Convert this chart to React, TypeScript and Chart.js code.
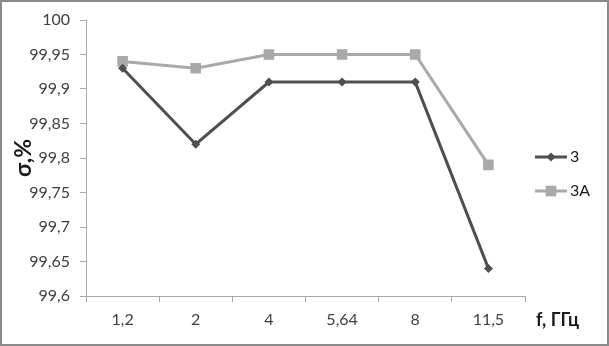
import React, { useEffect, useRef } from "react";
import { Chart, registerables } from "chart.js";

Chart.register(...registerables);

const categories = ["1,2", "2", "4", "5,64", "8", "11,5"];
const series3 = [99.93, 99.82, 99.91, 99.91, 99.91, 99.64];
const series3A = [99.94, 99.93, 99.95, 99.95, 99.95, 99.79];
const seriesNames = ["3", "3A"];
const yTitle = "σ,%";
const xTitle = "f, ГГц";

const DARK = "#4f4f4f";
const LIGHT = "#a9a9a9";
const FONT = "Lato, 'Open Sans', sans-serif";

const extras = {
  id: "extras",
  afterDraw(chart: any) {
    const ctx = chart.ctx;
    ctx.save();
    ctx.strokeStyle = "#8a8a8a";
    ctx.lineWidth = 2;
    ctx.strokeRect(1, 1, chart.width - 2, chart.height - 2);
    ctx.fillStyle = "#1a1a1a";
    ctx.font = `bold 18px ${FONT}`;
    ctx.textAlign = "left";
    ctx.textBaseline = "middle";
    ctx.fillText(xTitle, 536, 320);
    const items = [
      { name: seriesNames[0], color: DARK, style: "rectRot", r: 4.5, y: 157 },
      { name: seriesNames[1], color: LIGHT, style: "rect", r: 7.5, y: 191 },
    ];
    ctx.font = `16px ${FONT}`;
    for (const it of items) {
      ctx.strokeStyle = it.color;
      ctx.lineWidth = 3;
      ctx.beginPath();
      ctx.moveTo(535, it.y);
      ctx.lineTo(567, it.y);
      ctx.stroke();
      ctx.fillStyle = it.color;
      ctx.beginPath();
      if (it.style === "rect") {
        const s = it.r * Math.SQRT1_2;
        ctx.rect(551 - s, it.y - s, 2 * s, 2 * s);
      } else {
        ctx.moveTo(551, it.y - it.r);
        ctx.lineTo(551 + it.r, it.y);
        ctx.lineTo(551, it.y + it.r);
        ctx.lineTo(551 - it.r, it.y);
        ctx.closePath();
      }
      ctx.fill();
      ctx.fillStyle = "#1a1a1a";
      ctx.fillText(it.name, 570, it.y);
    }
    ctx.restore();
  },
};

export default function App() {
  const ref = useRef<HTMLCanvasElement>(null);
  useEffect(() => {
    document.body.style.margin = "0";
    const chart = new Chart(ref.current!, {
      type: "line",
      data: {
        labels: categories,
        datasets: [
          {
            label: seriesNames[0],
            data: series3,
            borderColor: DARK,
            backgroundColor: DARK,
            borderWidth: 3,
            pointStyle: "rectRot",
            pointRadius: 4.5,
            pointBorderWidth: 0,
            tension: 0,
          },
          {
            label: seriesNames[1],
            data: series3A,
            borderColor: LIGHT,
            backgroundColor: LIGHT,
            borderWidth: 3,
            pointStyle: "rect",
            pointRadius: 7.5,
            pointBorderWidth: 0,
            tension: 0,
          },
        ],
      },
      options: {
        animation: false,
        responsive: false,
        devicePixelRatio: 1,
        layout: { padding: { top: 20, right: 84, left: 0, bottom: 0 } },
        plugins: { legend: { display: false }, tooltip: { enabled: false } },
        scales: {
          x: {
            type: "category",
            offset: true,
            grid: {
              offset: true,
              drawOnChartArea: false,
              drawTicks: true,
              tickLength: 6,
              color: "#a8a8a8",
            },
            border: { color: "#a8a8a8", width: 1 },
            ticks: {
              color: "#404040",
              font: { family: FONT, size: 16 },
              padding: 8,
              maxRotation: 0,
            },
            afterFit(scale: any) {
              scale.height = 50;
            },
          },
          y: {
            min: 99.6,
            max: 100,
            grid: {
              drawOnChartArea: false,
              drawTicks: true,
              tickLength: 6,
              color: "#a8a8a8",
            },
            border: { color: "#a8a8a8", width: 1 },
            ticks: {
              stepSize: 0.05,
              color: "#404040",
              font: { family: FONT, size: 16 },
              padding: 10,
              callback: (v: any) =>
                String(Math.round(Number(v) * 100) / 100).replace(".", ","),
            },
            title: {
              display: true,
              text: yTitle,
              color: "#1a1a1a",
              font: { family: FONT, size: 23, weight: "bold" },
              padding: { top: 10, bottom: 0 },
            },
            afterFit(scale: any) {
              scale.width = 86;
            },
          },
        },
      },
      plugins: [extras],
    });
    return () => chart.destroy();
  }, []);
  return <canvas ref={ref} width={609} height={346} style={{ display: "block" }} />;
}
